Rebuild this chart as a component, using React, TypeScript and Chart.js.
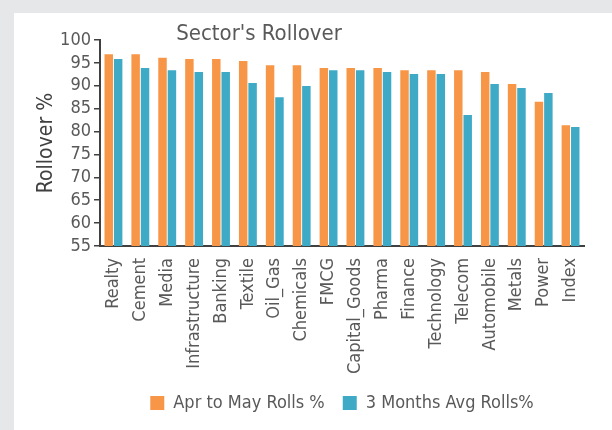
import React, { useEffect, useRef } from "react";
import { Chart, registerables } from "chart.js";

Chart.register(...registerables);

const categories = ["Realty", "Cement", "Media", "Infrastructure", "Banking", "Textile", "Oil_Gas", "Chemicals", "FMCG", "Capital_Goods", "Pharma", "Finance", "Technology", "Telecom", "Automobile", "Metals", "Power", "Index"];
const aprToMay = [96.9, 96.9, 96.1, 95.85, 95.85, 95.4, 94.5, 94.5, 93.9, 93.9, 93.9, 93.4, 93.4, 93.4, 93.0, 90.4, 86.5, 81.4];
const threeMonthAvg = [95.85, 93.9, 93.4, 93.0, 93.0, 90.6, 87.5, 89.95, 93.4, 93.4, 93.0, 92.6, 92.6, 83.6, 90.4, 89.5, 88.4, 81.0];
const seriesNames = ["Apr to May Rolls %", "3 Months Avg Rolls%"];
const titleText = "Sector's Rollover";
const yTitle = "Rollover %";

const FONT = "'Liberation Sans Narrow', 'DejaVu Sans Condensed', sans-serif";
const TEXT = "#595959";
const AXIS = "#404040";

export default function App() {
  const ref = useRef<HTMLCanvasElement | null>(null);
  useEffect(() => {
    if (!ref.current) return;
    const titlePlugin = {
      id: "customTitle",
      afterDraw(chart: any) {
        const ctx = chart.ctx;
        ctx.save();
        ctx.font = `22px ${FONT}`;
        ctx.fillStyle = TEXT;
        ctx.textAlign = "center";
        ctx.textBaseline = "alphabetic";
        ctx.fillText(titleText, 245, 27);
        ctx.restore();
      },
    };
    const chart = new Chart(ref.current, {
      type: "bar",
      data: {
        labels: categories,
        datasets: [
          { label: seriesNames[0], data: aprToMay, backgroundColor: "#F79646" },
          { label: seriesNames[1], data: threeMonthAvg, backgroundColor: "#3FAAC6" },
        ],
      },
      options: {
        animation: false,
        responsive: false,
        maintainAspectRatio: false,
        layout: { padding: { top: 27, right: 28, left: 0, bottom: 8 } },
        datasets: { bar: { categoryPercentage: 0.7, barPercentage: 0.9 } },
        plugins: {
          title: { display: false },
          tooltip: { enabled: false },
          legend: {
            position: "bottom",
            fullSize: false,
            labels: {
              color: TEXT,
              font: { family: FONT, size: 18 },
              boxWidth: 14,
              boxHeight: 14,
              padding: 18,
            },
          },
        },
        scales: {
          x: {
            grid: { display: false },
            border: { display: true, color: AXIS, width: 2 },
            ticks: {
              color: TEXT,
              font: { family: FONT, size: 18 },
              maxRotation: 90,
              minRotation: 90,
              autoSkip: false,
              padding: 4,
            },
            afterFit: (scale: any) => { scale.height = 130; },
          },
          y: {
            min: 55,
            max: 100,
            grid: { display: true, drawOnChartArea: false, drawTicks: true, tickLength: 6, color: AXIS, lineWidth: 1.5 },
            border: { display: true, color: AXIS, width: 2 },
            ticks: { stepSize: 5, autoSkip: false, color: TEXT, font: { family: FONT, size: 18 }, padding: 3 },
            title: { display: true, text: yTitle, color: "#404040", font: { family: FONT, size: 21 }, padding: { top: 20, bottom: 0 } },
            afterFit: (scale: any) => { scale.width = 86; },
          },
        },
      },
      plugins: [titlePlugin],
    });
    return () => chart.destroy();
  }, []);
  return (
    <div style={{ position: "fixed", inset: 0, background: "#e6e7e9" }}>
      <div style={{ position: "absolute", left: 14, top: 13, width: 598, height: 417, background: "#fff" }}>
        <canvas ref={ref} width={598} height={417} style={{ display: "block" }} />
      </div>
    </div>
  );
}
